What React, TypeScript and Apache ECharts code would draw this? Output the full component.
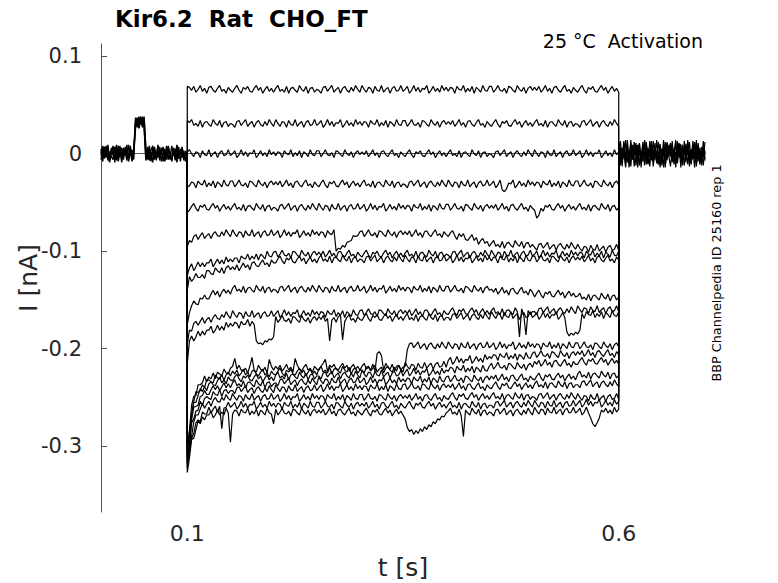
import React, { useEffect, useRef } from "react";
import * as echarts from "echarts";

// ---- axis ticks ----
const yTicks = [0.1, 0, -0.1, -0.2, -0.3];
const yTickLabels = ["0.1", "0", "-0.1", "-0.2", "-0.3"];
const xTicks = [0.1, 0.6];
const xTickLabels = ["0.1", "0.6"];

// ---- sample times (s) ----
// step: 0.1 (onset peak), then 0.1025 .. 0.6 every 0.0025 (200 samples)
const stepOnset = 0.1;
const stepStart = 0.1025;
const stepDt = 0.0025;
const stepCount = 200;
// holding: every 0.002 s, 51 samples
const holdDt = 0.002;
const preStart = 0;
const postStart = 0.6;

// ---- holding currents (pA), before the step (with test pulse) ----
const pre1 = [5,-8,7,-2,9,-6,1,8,-9,3, -5,8,-7,4,-2,9,-6,2,-8,6, 34,27,38,30,36,28, -4,7,-6,2,-9,5,-2,8,-7,1, 6,-3,8,-6,2,-8,5,-2,9,-5, 1,6,-7,3,-2];
const pre2 = [-6,3,7,-4,1,-9,6,-2,4,-7, 8,-3,2,-6,7,0,-8,5,-2,3, 26,36,31,38,27,35, 6,-2,-7,4,8,-6,2,-4,7,-8, 0,5,-6,8,-3,-7,6,2,-5,7, -8,3,0,-6,2];
const pre3 = [1,6,-5,8,-7,2,-3,-6,7,4, -8,1,6,-3,2,-7,9,-2,4,-6, 37,30,26,35,29,38, 2,-6,8,-3,0,7,-7,4,-2,6, -8,3,-5,7,0,-6,4,-7,8,-2, 5,-4,3,-8,0];
const pre4 = [-2,8,-4,1,6,-8,4,0,-6,9, -3,5,-9,6,-1,4,-5,8,-7,2, 31,37,28,33,38,26, -7,3,4,-8,6,-1,-5,9,-3,2, 7,-8,1,4,-6,8,-2,5,-9,3, -1,7,-4,1,-5];

// ---- holding currents (pA), after the step ----
const post1 = [10,-12,6,-4,14,-9,3,-13,8,-1, 11,-6,4,-14,9,-2,12,-10,5,-7, 13,-4,2,-11,7,-5,14,-12,4,-1, 10,-9,6,-14,3,11,-5,-10,13,-2, 7,-13,5,-6,12,-4,9,-11,2,6, -7];
const post2 = [-11,5,-3,13,-7,10,-14,4,-5,12, -1,9,-12,3,-8,14,-4,6,-13,8, -6,11,-10,1,-14,5,-2,12,-7,9, -3,13,-11,2,-6,10,-1,-12,7,-5, 14,-8,4,-2,11,-13,6,-9,3,-4, 12];
const post3 = [4,13,-8,1,-14,7,-4,11,-6,5, -12,3,10,-7,-1,13,-11,5,-3,9, -13,6,-2,12,-9,4,-14,10,-5,1, 11,-7,-2,14,-10,5,-6,9,-12,4, -1,12,-7,3,-14,10,-4,6,-11,13, -5];
const post4 = [-5,7,-13,11,-2,5,-10,14,-6,1, 8,-14,6,-3,12,-9,2,-11,13,-1, 4,-7,14,-5,10,-12,1,-6,11,-2, -13,5,-8,12,-4,7,-14,6,-1,10, -11,4,-6,13,-3,-9,11,-5,7,-12, 3];
const post5 = [12,-3,-9,6,-11,14,-7,2,9,-13, 5,-2,11,-8,4,-12,10,-5,1,13, -9,7,-4,-11,9,-1,6,-14,12,-3, 8,-6,1,-10,13,-4,10,-7,3,-9, 12,-1,-11,8,-5,14,-8,2,-12,6, 0];

// ---- step currents (pA): onset peak + 200 samples (10 rows of 20) ----
const trace1 = [69,
  68,65,69,63,66,70,64,67,62,68,69,65,63,67,70,64,66,62,68,65,
  63,67,70,65,62,68,66,69,64,63,67,70,65,68,62,66,69,64,67,63,
  67,70,64,66,63,69,62,67,68,65,63,70,66,64,69,62,67,68,63,66,
  65,62,68,69,64,67,70,63,66,68,62,67,69,65,63,68,64,70,66,63,
  70,66,63,68,67,62,69,65,64,70,63,66,68,62,67,69,64,65,70,64,
  66,69,62,65,70,64,68,63,67,66,70,62,65,69,64,67,63,70,65,68,
  64,68,67,62,69,66,65,70,63,67,64,69,62,68,66,63,70,65,64,69,
  69,63,66,70,65,64,67,62,69,68,65,63,70,66,64,68,62,67,69,65,
  68,65,69,63,66,70,64,67,62,68,69,65,63,67,70,64,66,62,68,65,
  63,67,70,65,62,68,66,69,64,63,67,70,65,68,62,66,69,64,67,63];
const trace2 = [34,
  32,35,29,31,28,34,27,32,33,30,28,35,31,29,34,27,32,33,28,31,
  30,27,33,34,29,32,35,28,31,33,27,32,34,30,28,33,29,35,31,28,
  35,31,28,33,32,27,34,30,29,35,28,31,33,27,32,34,29,30,35,29,
  31,34,27,30,35,29,33,28,32,31,35,27,30,34,29,32,28,35,30,33,
  29,33,32,27,34,31,30,35,28,32,29,34,27,33,31,28,35,30,29,34,
  34,28,31,35,30,29,32,27,34,33,30,28,35,31,29,33,27,32,34,30,
  33,30,34,28,31,35,29,32,27,33,34,30,28,32,35,29,31,27,33,30,
  28,32,35,30,27,33,31,34,29,28,32,35,30,33,27,31,34,29,32,28,
  32,35,29,31,28,34,27,32,33,30,28,35,31,29,34,27,32,33,28,31,
  30,27,33,34,29,32,35,28,31,33,27,32,34,30,28,33,29,35,31,28];
const trace3 = [2,
  4,0,-3,2,1,-4,3,-1,-2,4,-3,0,2,-4,1,3,-2,-1,4,-2,
  0,3,-4,-1,4,-2,2,-3,1,0,4,-4,-1,3,-2,1,-3,4,-1,2,
  -2,2,1,-4,3,0,-1,4,-3,1,-2,3,-4,2,0,-3,4,-1,-2,3,
  3,-3,0,4,-1,-2,1,-4,3,2,-1,-3,4,0,-2,2,-4,1,3,-1,
  2,-1,3,-3,0,4,-2,1,-4,2,3,-1,-3,1,4,-2,0,-4,2,-1,
  -3,1,4,-1,-4,2,0,3,-2,-3,1,4,-1,2,-4,0,3,-2,1,-3,
  1,4,-2,0,-3,3,-4,1,2,-1,-3,4,0,-2,3,-4,1,2,-3,0,
  -1,-4,2,3,-2,1,4,-3,0,2,-4,1,3,-1,-3,2,-2,4,0,-3,
  4,0,-3,2,1,-4,3,-1,-2,4,-3,0,2,-4,1,3,-2,-1,4,-2,
  0,3,-4,-1,4,-2,2,-3,1,0,4,-4,-1,3,-2,1,-3,4,-1,2];
const trace4 = [-34,
  -33,-29,-30,-35,-28,-31,-32,-27,-34,-30,-33,-28,-35,-29,-31,-34,-27,-32,-33,-28,
  -28,-34,-31,-27,-32,-33,-30,-35,-28,-29,-32,-34,-27,-31,-33,-29,-35,-30,-28,-32,
  -29,-32,-28,-34,-31,-27,-33,-30,-35,-29,-28,-32,-34,-30,-27,-33,-31,-35,-29,-32,
  -34,-30,-27,-32,-35,-29,-31,-28,-33,-34,-30,-27,-32,-29,-35,-31,-28,-33,-30,-34,
  -30,-27,-33,-31,-34,-28,-35,-30,-29,-32,-34,-27,-31,-33,-28,-35,-30,-29,-34,-31,
  -32,-35,-29,-28,-33,-30,-27,-34,-31,-29,-35,-30,-28,-32,-34,-29,-33,-27,-31,-34,
  -27,-31,-34,-29,-30,-35,-28,-32,-33,-27,-34,-31,-29,-35,-30,-28,-33,-32,-27,-33,
  -31,-28,-35,-32,-27,-37,-39,-36,-30,-31,-27,-35,-32,-28,-33,-30,-34,-27,-32,-29,
  -33,-29,-30,-35,-28,-31,-32,-27,-34,-30,-33,-28,-35,-29,-31,-34,-27,-32,-33,-28,
  -28,-34,-31,-27,-32,-33,-30,-35,-28,-29,-32,-34,-27,-31,-33,-29,-35,-30,-28,-32];
const trace5 = [-60,
  -58,-54,-51,-56,-59,-53,-55,-52,-57,-58,-54,-51,-56,-53,-59,-55,-52,-57,-54,-58,
  -54,-51,-57,-55,-58,-52,-59,-54,-53,-56,-58,-51,-55,-57,-52,-59,-54,-53,-58,-55,
  -56,-59,-53,-52,-57,-54,-51,-58,-55,-53,-59,-54,-52,-56,-58,-53,-57,-51,-55,-58,
  -51,-55,-58,-53,-54,-59,-52,-56,-57,-51,-58,-55,-53,-59,-54,-52,-57,-56,-51,-57,
  -55,-52,-59,-56,-51,-57,-53,-58,-54,-55,-51,-59,-56,-52,-57,-54,-58,-51,-56,-53,
  -57,-53,-54,-59,-52,-55,-56,-51,-58,-54,-57,-52,-59,-53,-55,-58,-51,-56,-57,-52,
  -52,-58,-55,-51,-56,-57,-54,-59,-52,-53,-56,-58,-51,-55,-57,-53,-59,-54,-52,-56,
  -53,-56,-52,-58,-55,-51,-57,-54,-59,-53,-52,-56,-58,-54,-51,-57,-55,-59,-53,-56,
  -58,-66,-63,-56,-59,-53,-55,-52,-57,-58,-54,-51,-56,-53,-59,-55,-52,-57,-54,-58,
  -54,-51,-57,-55,-58,-52,-59,-54,-53,-56,-58,-51,-55,-57,-52,-59,-54,-53,-58,-55];
const trace6 = [-95,
  -89,-91,-85,-83,-88,-84,-81,-87,-84,-82,-87,-82,-80,-84,-85,-80,-84,-78,-82,-85,
  -78,-82,-85,-80,-81,-86,-79,-83,-84,-78,-85,-82,-80,-86,-81,-79,-84,-83,-78,-84,
  -82,-79,-86,-83,-78,-84,-80,-85,-81,-82,-78,-86,-83,-79,-84,-81,-85,-78,-83,-80,
  -84,-80,-81,-86,-79,-82,-83,-78,-100,-97,-98,-94,-96,-91,-90,-89,-84,-85,-84,-80,
  -79,-85,-82,-78,-83,-84,-81,-86,-79,-80,-83,-85,-78,-82,-84,-80,-86,-81,-79,-83,
  -80,-83,-79,-85,-82,-78,-84,-81,-86,-80,-79,-83,-85,-81,-78,-84,-82,-86,-80,-83,
  -85,-81,-79,-84,-88,-82,-85,-82,-88,-89,-86,-83,-89,-86,-93,-89,-87,-92,-90,-95,
  -92,-89,-95,-93,-96,-90,-97,-92,-91,-94,-96,-89,-93,-95,-90,-97,-92,-91,-96,-93,
  -96,-99,-93,-92,-97,-94,-91,-98,-95,-93,-99,-94,-92,-96,-98,-93,-97,-91,-95,-98,
  -93,-97,-100,-95,-96,-101,-94,-98,-99,-93,-100,-97,-95,-101,-96,-94,-99,-98,-93,-99];
const trace7 = [-125,
  -117,-113,-120,-116,-111,-116,-112,-116,-112,-112,-108,-116,-112,-108,-113,-109,-113,-106,-111,-108,
  -111,-107,-107,-112,-105,-107,-108,-103,-109,-105,-108,-103,-109,-103,-105,-108,-100,-105,-106,-101,
  -100,-106,-103,-99,-104,-105,-102,-107,-100,-101,-104,-106,-99,-103,-105,-101,-107,-102,-100,-104,
  -101,-104,-100,-106,-103,-99,-105,-102,-107,-101,-100,-104,-106,-102,-99,-105,-103,-107,-101,-104,
  -106,-102,-99,-104,-107,-101,-103,-100,-105,-106,-102,-99,-104,-101,-107,-103,-100,-105,-102,-106,
  -102,-99,-105,-103,-106,-100,-107,-102,-101,-104,-106,-99,-103,-105,-100,-107,-102,-101,-106,-103,
  -104,-107,-101,-100,-105,-102,-99,-106,-103,-101,-107,-102,-100,-104,-106,-101,-105,-99,-103,-106,
  -99,-103,-106,-101,-102,-107,-100,-104,-105,-99,-106,-103,-101,-107,-102,-100,-105,-104,-99,-105,
  -103,-100,-107,-104,-99,-105,-101,-106,-102,-103,-99,-107,-104,-100,-105,-102,-106,-99,-104,-101,
  -105,-101,-102,-107,-100,-103,-104,-99,-106,-102,-105,-100,-107,-101,-103,-106,-99,-104,-105,-100];
const trace8 = [-140,
  -126,-131,-128,-123,-127,-127,-124,-128,-120,-120,-123,-124,-117,-120,-122,-117,-123,-117,-115,-119,
  -116,-119,-114,-120,-116,-112,-117,-114,-119,-112,-111,-115,-116,-112,-109,-114,-112,-116,-109,-112,
  -112,-108,-105,-110,-113,-107,-109,-106,-111,-112,-108,-105,-110,-107,-113,-109,-106,-111,-108,-112,
  -107,-104,-110,-108,-111,-105,-112,-107,-106,-109,-111,-104,-108,-110,-105,-112,-107,-106,-111,-108,
  -109,-112,-106,-105,-110,-107,-104,-111,-108,-106,-112,-107,-105,-109,-111,-106,-110,-104,-108,-111,
  -104,-108,-111,-106,-107,-112,-105,-109,-110,-104,-111,-108,-106,-112,-107,-105,-110,-109,-104,-110,
  -108,-105,-112,-109,-104,-110,-106,-111,-107,-108,-104,-112,-109,-105,-110,-107,-111,-104,-109,-106,
  -110,-106,-107,-112,-105,-108,-109,-104,-111,-107,-110,-105,-112,-106,-108,-111,-104,-109,-110,-105,
  -105,-111,-108,-104,-109,-110,-107,-112,-105,-106,-109,-111,-104,-108,-110,-106,-112,-107,-105,-109,
  -106,-109,-105,-111,-108,-104,-110,-107,-112,-106,-105,-109,-111,-107,-104,-110,-108,-112,-106,-109];
const trace9 = [-175,
  -163,-156,-151,-154,-155,-148,-149,-145,-149,-149,-144,-140,-145,-141,-147,-142,-139,-143,-140,-144,
  -138,-135,-141,-139,-142,-136,-143,-138,-137,-140,-142,-135,-139,-141,-136,-143,-138,-137,-142,-139,
  -140,-143,-137,-136,-141,-138,-135,-142,-139,-137,-143,-138,-136,-140,-142,-137,-141,-135,-139,-142,
  -135,-139,-142,-137,-138,-143,-136,-140,-141,-135,-142,-139,-137,-143,-138,-136,-141,-140,-135,-141,
  -139,-136,-143,-140,-135,-141,-137,-142,-138,-139,-135,-143,-140,-136,-141,-138,-142,-135,-140,-137,
  -141,-137,-138,-143,-136,-139,-140,-135,-142,-138,-141,-136,-143,-137,-139,-142,-135,-140,-141,-136,
  -136,-142,-139,-135,-140,-141,-138,-143,-136,-137,-140,-142,-135,-139,-141,-137,-143,-138,-136,-140,
  -139,-142,-138,-144,-141,-137,-143,-140,-145,-139,-138,-142,-144,-140,-137,-143,-141,-145,-139,-142,
  -147,-143,-140,-145,-148,-142,-144,-141,-146,-147,-143,-140,-145,-142,-148,-144,-141,-146,-143,-147,
  -146,-143,-149,-147,-150,-144,-151,-146,-145,-148,-150,-143,-147,-149,-144,-151,-146,-145,-150,-147];
const trace10 = [-195,
  -181,-182,-174,-172,-176,-172,-168,-174,-170,-168,-173,-168,-165,-169,-170,-165,-168,-162,-166,-169,
  -161,-165,-168,-163,-164,-169,-162,-166,-167,-161,-168,-165,-163,-169,-164,-162,-167,-166,-161,-167,
  -164,-161,-168,-165,-160,-166,-162,-167,-163,-164,-160,-168,-165,-161,-166,-163,-167,-160,-165,-162,
  -166,-162,-163,-168,-161,-164,-165,-160,-167,-163,-166,-161,-168,-162,-164,-167,-160,-165,-166,-161,
  -160,-166,-163,-159,-164,-165,-162,-167,-160,-161,-164,-166,-159,-163,-165,-161,-167,-162,-160,-164,
  -161,-164,-160,-166,-163,-159,-165,-162,-167,-161,-160,-164,-166,-162,-159,-165,-163,-167,-161,-164,
  -165,-161,-158,-163,-166,-160,-162,-159,-164,-165,-161,-158,-163,-160,-166,-162,-159,-164,-161,-165,
  -161,-158,-164,-162,-165,-159,-166,-161,-160,-163,-165,-158,-162,-188,-159,-166,-186,-161,-165,-162,
  -162,-165,-159,-158,-163,-160,-157,-164,-161,-159,-165,-160,-158,-162,-164,-159,-163,-157,-161,-164,
  -156,-160,-163,-158,-159,-164,-157,-161,-162,-156,-163,-160,-158,-164,-159,-157,-162,-161,-156,-162];
const trace11 = [-215,
  -192,-187,-192,-188,-182,-187,-182,-186,-181,-181,-177,-184,-181,-176,-181,-177,-181,-173,-178,-174,
  -177,-173,-174,-179,-172,-175,-175,-170,-177,-172,-175,-192,-195,-194,-196,-192,-193,-190,-191,-188,
  -167,-173,-170,-166,-171,-172,-169,-174,-167,-168,-171,-173,-166,-170,-172,-168,-174,-169,-167,-171,
  -167,-170,-166,-172,-169,-192,-171,-168,-173,-167,-166,-191,-172,-168,-165,-171,-169,-173,-167,-170,
  -171,-167,-164,-169,-172,-166,-168,-165,-170,-171,-167,-164,-169,-166,-172,-168,-165,-170,-167,-171,
  -167,-164,-170,-168,-171,-165,-172,-167,-166,-169,-171,-164,-168,-170,-165,-172,-167,-166,-171,-168,
  -168,-171,-165,-164,-169,-166,-163,-170,-167,-165,-171,-166,-164,-168,-170,-165,-169,-163,-167,-170,
  -162,-166,-169,-164,-165,-170,-163,-167,-168,-162,-169,-166,-164,-170,-165,-163,-168,-167,-162,-168,
  -166,-163,-170,-167,-162,-168,-164,-169,-165,-166,-162,-170,-167,-163,-168,-183,-187,-184,-186,-183,
  -185,-181,-164,-169,-162,-165,-166,-161,-168,-164,-167,-162,-169,-163,-165,-168,-161,-166,-167,-162];
const trace12 = [-300,
  -284,-258,-249,-248,-237,-237,-235,-228,-234,-229,-231,-225,-231,-224,-226,-228,-221,-225,-226,-220,
  -218,-210,-221,-217,-222,-223,-220,-225,-218,-209,-222,-224,-217,-221,-223,-219,-225,-211,-218,-222,
  -218,-221,-217,-223,-220,-216,-222,-219,-224,-210,-217,-221,-223,-219,-216,-222,-220,-224,-218,-221,
  -222,-218,-215,-211,-223,-217,-219,-216,-221,-222,-218,-215,-220,-217,-223,-219,-216,-221,-218,-222,
  -218,-215,-221,-219,-222,-216,-223,-205,-203,-207,-222,-215,-219,-221,-216,-223,-218,-217,-222,-219,
  -218,-201,-195,-194,-199,-196,-193,-200,-197,-195,-201,-196,-194,-198,-200,-195,-199,-193,-197,-200,
  -193,-197,-200,-195,-196,-201,-194,-198,-199,-193,-200,-197,-195,-201,-196,-194,-199,-198,-193,-199,
  -197,-194,-201,-198,-193,-199,-195,-200,-196,-197,-193,-201,-198,-194,-199,-196,-200,-193,-198,-195,
  -199,-195,-196,-201,-194,-197,-198,-193,-200,-196,-199,-194,-201,-195,-197,-200,-193,-198,-199,-194,
  -194,-200,-197,-193,-198,-199,-196,-201,-194,-195,-198,-200,-193,-197,-199,-195,-201,-196,-194,-198];
const trace13 = [-308,
  -285,-267,-254,-244,-245,-243,-237,-240,-232,-232,-234,-235,-227,-230,-231,-227,-232,-227,-224,-228,
  -223,-226,-222,-228,-225,-221,-227,-224,-229,-223,-222,-226,-228,-224,-221,-227,-225,-229,-223,-226,
  -227,-223,-220,-225,-228,-222,-224,-221,-226,-227,-223,-220,-225,-222,-228,-224,-221,-226,-223,-227,
  -221,-218,-224,-222,-225,-219,-226,-221,-220,-223,-225,-218,-222,-224,-219,-226,-221,-220,-225,-222,
  -222,-225,-219,-218,-223,-220,-217,-224,-221,-219,-225,-220,-218,-222,-224,-219,-223,-217,-221,-224,
  -214,-218,-221,-216,-217,-222,-215,-219,-220,-214,-220,-217,-215,-221,-216,-214,-219,-218,-213,-219,
  -212,-209,-216,-213,-208,-214,-210,-215,-211,-212,-207,-215,-212,-208,-213,-210,-214,-206,-211,-208,
  -210,-206,-207,-212,-205,-208,-209,-204,-211,-207,-210,-205,-212,-206,-208,-211,-204,-209,-210,-205,
  -203,-209,-206,-202,-207,-208,-205,-210,-203,-204,-207,-209,-202,-206,-208,-204,-210,-205,-203,-207,
  -203,-206,-202,-208,-205,-201,-207,-204,-209,-203,-202,-206,-208,-204,-201,-207,-205,-209,-203,-206];
const trace14 = [-305,
  -290,-269,-255,-255,-248,-241,-244,-239,-243,-236,-234,-237,-238,-233,-229,-235,-232,-236,-229,-232,
  -233,-229,-226,-231,-234,-228,-230,-227,-232,-233,-229,-226,-231,-228,-234,-230,-227,-232,-229,-233,
  -227,-224,-230,-228,-231,-225,-232,-227,-226,-229,-231,-224,-228,-230,-225,-232,-227,-226,-231,-228,
  -228,-231,-225,-224,-229,-226,-223,-230,-227,-225,-231,-226,-224,-228,-230,-225,-229,-223,-227,-230,
  -222,-226,-229,-224,-225,-230,-223,-227,-228,-222,-229,-226,-224,-230,-225,-223,-228,-227,-222,-228,
  -224,-221,-228,-225,-220,-226,-222,-227,-223,-224,-220,-228,-225,-221,-226,-223,-227,-220,-225,-222,
  -223,-219,-220,-225,-218,-221,-222,-217,-224,-220,-223,-218,-225,-219,-221,-224,-217,-222,-223,-218,
  -215,-221,-218,-214,-219,-220,-217,-222,-215,-216,-219,-221,-214,-218,-220,-216,-222,-217,-215,-219,
  -213,-216,-212,-218,-215,-211,-217,-214,-219,-213,-212,-216,-218,-214,-211,-217,-215,-219,-213,-216,
  -216,-212,-209,-214,-217,-211,-213,-210,-215,-216,-212,-209,-214,-211,-217,-213,-210,-215,-212,-216];
const trace15 = [-312,
  -299,-273,-260,-259,-258,-249,-248,-243,-247,-247,-242,-238,-242,-238,-243,-239,-235,-240,-236,-240,
  -235,-232,-238,-236,-239,-233,-240,-235,-234,-237,-239,-232,-236,-238,-233,-240,-235,-234,-239,-236,
  -235,-238,-232,-231,-236,-233,-230,-237,-234,-232,-238,-233,-231,-235,-237,-232,-236,-230,-234,-237,
  -229,-233,-236,-231,-232,-237,-230,-234,-235,-229,-236,-233,-231,-237,-232,-230,-235,-234,-229,-235,
  -233,-230,-237,-234,-229,-235,-231,-236,-232,-233,-229,-237,-234,-230,-235,-232,-236,-229,-234,-231,
  -234,-230,-231,-236,-229,-232,-233,-228,-235,-231,-234,-229,-236,-230,-232,-235,-228,-233,-234,-229,
  -228,-234,-231,-227,-232,-233,-230,-235,-228,-229,-232,-234,-227,-231,-233,-229,-235,-230,-228,-232,
  -228,-231,-227,-233,-230,-226,-232,-229,-234,-228,-227,-231,-233,-229,-226,-232,-230,-234,-228,-231,
  -232,-228,-225,-230,-233,-227,-229,-226,-231,-232,-228,-225,-230,-227,-233,-229,-226,-231,-228,-232,
  -226,-223,-229,-227,-230,-224,-231,-226,-225,-228,-230,-223,-227,-229,-224,-231,-226,-225,-230,-227];
const trace16 = [-316,
  -299,-276,-272,-264,-263,-254,-258,-251,-249,-251,-252,-244,-247,-248,-242,-249,-243,-242,-246,-243,
  -243,-246,-240,-239,-244,-241,-238,-245,-242,-240,-246,-241,-239,-243,-245,-240,-244,-238,-242,-245,
  -237,-241,-244,-239,-240,-245,-238,-242,-243,-237,-244,-241,-239,-245,-240,-238,-243,-242,-237,-243,
  -240,-237,-244,-241,-236,-242,-238,-243,-239,-240,-236,-244,-241,-237,-242,-239,-243,-236,-241,-238,
  -242,-238,-239,-244,-237,-240,-241,-236,-243,-239,-242,-237,-244,-238,-240,-243,-236,-241,-242,-237,
  -236,-242,-239,-235,-240,-241,-238,-243,-236,-237,-240,-242,-235,-239,-241,-237,-243,-238,-236,-240,
  -237,-240,-236,-242,-239,-235,-241,-238,-243,-237,-236,-240,-242,-238,-235,-241,-239,-243,-237,-240,
  -241,-237,-234,-239,-242,-236,-238,-235,-240,-241,-237,-234,-239,-236,-242,-238,-235,-240,-237,-241,
  -236,-233,-239,-237,-240,-234,-241,-236,-235,-238,-240,-233,-237,-239,-234,-241,-236,-235,-240,-237,
  -237,-240,-234,-233,-238,-235,-232,-239,-236,-234,-240,-235,-233,-237,-239,-234,-238,-232,-236,-239];
const trace17 = [-318,
  -306,-290,-275,-268,-268,-262,-256,-261,-257,-254,-259,-253,-250,-254,-255,-250,-253,-247,-251,-253,
  -246,-250,-253,-248,-249,-254,-247,-251,-252,-246,-253,-250,-248,-254,-249,-247,-252,-251,-246,-252,
  -250,-247,-254,-251,-246,-252,-248,-253,-249,-250,-246,-254,-251,-247,-252,-249,-253,-246,-251,-248,
  -252,-248,-249,-254,-247,-250,-251,-246,-253,-249,-252,-247,-254,-248,-250,-253,-246,-251,-252,-247,
  -247,-253,-250,-246,-251,-252,-249,-254,-247,-248,-251,-253,-246,-250,-252,-248,-254,-249,-247,-251,
  -248,-251,-247,-253,-250,-246,-252,-249,-254,-248,-247,-251,-253,-249,-246,-252,-250,-254,-248,-251,
  -252,-248,-245,-250,-253,-247,-249,-246,-251,-252,-248,-245,-250,-247,-253,-249,-246,-251,-248,-252,
  -248,-245,-251,-249,-252,-246,-253,-248,-247,-250,-252,-245,-249,-251,-246,-253,-248,-247,-252,-249,
  -250,-253,-247,-246,-251,-248,-245,-252,-249,-247,-253,-248,-246,-250,-252,-247,-251,-245,-249,-252,
  -246,-250,-253,-248,-249,-254,-247,-251,-252,-246,-253,-250,-248,-254,-249,-247,-252,-251,-246,-252];
const trace18 = [-322,
  -304,-292,-287,-276,-273,-275,-265,-267,-267,-260,-266,-262,-259,-265,-259,-282,-261,-260,-255,-260,
  -258,-255,-262,-259,-254,-260,-256,-261,-257,-258,-254,-262,-259,-255,-260,-257,-261,-254,-259,-256,
  -260,-256,-257,-262,-255,-258,-259,-254,-261,-257,-260,-255,-262,-256,-258,-261,-254,-259,-260,-255,
  -255,-261,-258,-254,-259,-260,-257,-262,-255,-256,-259,-261,-254,-258,-260,-256,-262,-257,-255,-259,
  -256,-259,-255,-261,-258,-254,-260,-257,-262,-256,-255,-259,-261,-257,-254,-260,-258,-262,-256,-259,
  -261,-257,-254,-259,-262,-256,-258,-255,-260,-261,-257,-254,-259,-256,-262,-258,-255,-260,-257,-261,
  -257,-254,-260,-258,-261,-255,-262,-257,-256,-259,-261,-254,-258,-260,-255,-262,-257,-256,-261,-258,
  -258,-261,-255,-254,-259,-256,-253,-260,-257,-255,-261,-256,-254,-258,-260,-255,-259,-253,-257,-260,
  -253,-257,-260,-255,-256,-261,-254,-258,-259,-253,-260,-257,-255,-261,-256,-254,-259,-258,-253,-259,
  -256,-253,-260,-257,-252,-258,-254,-259,-255,-256,-252,-260,-257,-253,-258,-255,-259,-252,-257,-254];
const trace19 = [-327,
  -312,-293,-292,-283,-274,-277,-270,-273,-268,-268,-264,-271,-268,-263,-268,-265,-268,-261,-266,-296,
  -267,-263,-264,-269,-262,-265,-266,-261,-268,-264,-267,-262,-269,-263,-265,-268,-261,-266,-267,-277,
  -262,-268,-265,-261,-266,-267,-264,-269,-262,-263,-266,-268,-261,-265,-267,-263,-269,-264,-262,-266,
  -263,-266,-262,-268,-265,-261,-267,-264,-269,-263,-262,-266,-268,-264,-261,-267,-265,-269,-263,-266,
  -268,-264,-261,-266,-269,-263,-265,-262,-267,-268,-264,-261,-266,-263,-269,-265,-262,-267,-264,-268,
  -272,-281,-285,-283,-288,-284,-287,-282,-285,-280,-283,-278,-280,-275,-277,-272,-273,-269,-270,-266,
  -264,-261,-267,-265,-268,-262,-269,-290,-263,-266,-268,-261,-265,-267,-262,-269,-264,-263,-268,-265,
  -266,-269,-263,-262,-267,-264,-261,-268,-265,-263,-269,-264,-262,-266,-268,-263,-267,-261,-265,-268,
  -260,-264,-267,-262,-263,-268,-261,-265,-266,-260,-267,-264,-262,-268,-263,-261,-266,-265,-260,-266,
  -264,-261,-268,-265,-260,-266,-271,-277,-280,-276,-271,-263,-265,-261,-266,-263,-267,-260,-265,-262];

const preHolds = [pre1, pre2, pre3, pre4];
const postHolds = [post1, post2, post3, post4, post5];
const traces = [trace1, trace2, trace3, trace4, trace5, trace6, trace7, trace8, trace9, trace10,
  trace11, trace12, trace13, trace14, trace15, trace16, trace17, trace18, trace19];

const FONT = "DejaVu Sans";
const TXT = "#262626";
const AX = "#555555";

const round = (v: number) => Math.round(v * 1e6) / 1e6;

const stepTimes: number[] = [stepOnset];
for (let j = 0; j < stepCount; j++) stepTimes.push(round(stepStart + stepDt * j));

function holdData(vals: number[], t0: number) {
  return vals.map((v, k) => [round(t0 + holdDt * k), v / 1000]);
}
function stepData(vals: number[]) {
  const pts: number[][] = [[stepOnset, 0]];
  const n = Math.min(vals.length, stepTimes.length);
  for (let i = 0; i < n; i++) pts.push([stepTimes[i], vals[i] / 1000]);
  pts.push([0.6, 0]);
  return pts;
}
function tickLabel(ticks: number[], labels: string[]) {
  return (v: number) => {
    const i = ticks.findIndex((t) => Math.abs(t - v) < 1e-7);
    return i >= 0 ? labels[i] : "";
  };
}

const lineSeries = (data: number[][], width: number) => ({
  type: "line",
  data,
  showSymbol: false,
  symbol: "none",
  silent: true,
  animation: false,
  lineStyle: { color: "#000000", width },
});

export default function App() {
  const ref = useRef<HTMLDivElement>(null);
  useEffect(() => {
    document.body.style.margin = "0";
    if (!ref.current) return;
    const chart = echarts.init(ref.current, undefined, { renderer: "svg" });
    const series: any[] = [];
    preHolds.forEach((h) => series.push(lineSeries(holdData(h, preStart), 1.4)));
    postHolds.forEach((h) => series.push(lineSeries(holdData(h, postStart), 1.2)));
    traces.forEach((tr) => series.push(lineSeries(stepData(tr), 1.2)));
    chart.setOption({
      animation: false,
      backgroundColor: "#ffffff",
      title: {
        text: "Kir6.2  Rat  CHO_FT",
        left: 110,
        top: 2,
        textStyle: { fontFamily: FONT, fontSize: 23, fontWeight: "bold", color: "#000000" },
      },
      grid: { left: 101, right: 73, top: 44, bottom: 71, containLabel: false, outerBoundsMode: "none" },
      xAxis: {
        type: "value",
        min: 0,
        max: 0.7,
        name: "t [s]",
        nameLocation: "middle",
        nameGap: 43,
        nameMoveOverlap: false,
        nameTextStyle: { fontFamily: FONT, fontSize: 25, color: TXT },
        axisLine: { show: true, lineStyle: { color: AX, width: 1 } },
        axisTick: { show: true, inside: true, length: 6, customValues: xTicks, lineStyle: { color: AX } },
        axisLabel: {
          customValues: xTicks,
          formatter: tickLabel(xTicks, xTickLabels),
          fontFamily: FONT,
          fontSize: 22,
          color: TXT,
          margin: 10,
        },
        splitLine: { show: false },
      },
      yAxis: {
        type: "value",
        min: -0.3675,
        max: 0.1125,
        name: "I [nA]",
        nameLocation: "middle",
        nameRotate: 90,
        nameGap: 60,
        nameMoveOverlap: false,
        nameTextStyle: { fontFamily: FONT, fontSize: 25, color: TXT },
        axisLine: { show: true, lineStyle: { color: AX, width: 1 } },
        axisTick: { show: true, inside: true, length: 6, customValues: yTicks, lineStyle: { color: AX } },
        axisLabel: {
          customValues: yTicks,
          formatter: tickLabel(yTicks, yTickLabels),
          fontFamily: FONT,
          fontSize: 21,
          color: TXT,
          margin: 19,
        },
        splitLine: { show: false },
      },
      graphic: [
        {
          type: "text",
          x: 703,
          y: 41,
          style: {
            text: "25 °C  Activation",
            fontFamily: FONT,
            fontSize: 19,
            fill: "#000000",
            align: "right",
            verticalAlign: "middle",
          },
        },
        {
          type: "text",
          x: 716,
          y: 273,
          rotation: Math.PI / 2,
          style: {
            text: "BBP Channelpedia ID 25160 rep 1",
            fontFamily: FONT,
            fontSize: 12.8,
            fill: "#000000",
            align: "center",
            verticalAlign: "middle",
          },
        },
      ],
      series,
    });
    return () => chart.dispose();
  }, []);
  return <div ref={ref} style={{ width: 778, height: 583 }} />;
}
